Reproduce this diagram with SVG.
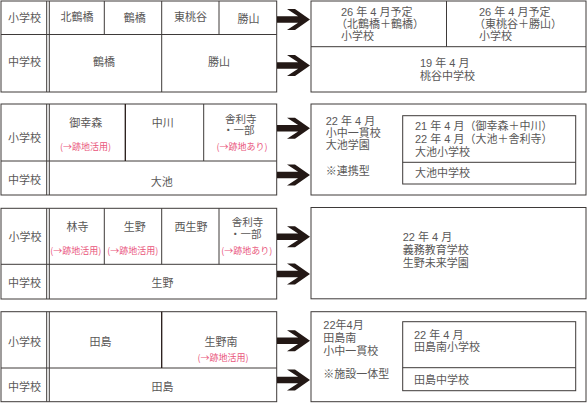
<svg xmlns="http://www.w3.org/2000/svg" xmlns:xlink="http://www.w3.org/1999/xlink" width="587" height="403" viewBox="0 0 587 403">
<defs>
<style>
.b{fill:#fff;stroke:#3e3a39;stroke-width:1}
.l{stroke:#3e3a39;stroke-width:1;fill:none}
.d{stroke:#231815;stroke-width:1.3;fill:none}
text{font-family:"Liberation Sans","Noto Sans CJK JP",sans-serif;font-size:11px;fill:#595757}
.c{text-anchor:middle}
.s{font-size:10.5px}
.p{font-family:"Noto Sans CJK JP",sans-serif;font-size:9px;fill:#e9547b;text-anchor:middle}
.a{fill:#231815}
</style>
<path id="arr" d="M277,-3.2 H298.1 L287,-10.5 H295 L310,0 L295,10.5 H287 L298.1,3.2 H277 Z"/>
</defs>
<rect width="587" height="403" fill="#fff"/>

<!-- Section 1 -->
<g id="s1-left">
<rect class="b" x="1" y="1" width="275.7" height="91"/>
<line class="l" x1="1" y1="34.5" x2="276.7" y2="34.5"/>
<line class="l" x1="46.7" y1="1" x2="46.7" y2="92"/>
<line class="l" x1="49.3" y1="1" x2="49.3" y2="92"/>
<line class="l" x1="104.3" y1="1" x2="104.3" y2="34.5"/>
<line class="l" x1="161.7" y1="1" x2="161.7" y2="92"/>
<line class="l" x1="219" y1="1" x2="219" y2="34.5"/>
<text class="c" x="24.5" y="22.3">小学校</text>
<text class="c" x="77" y="21.3">北鶴橋</text>
<text class="c" x="134.7" y="21.5">鶴橋</text>
<text class="c" x="190.5" y="21.3">東桃谷</text>
<text class="c" x="248.5" y="23">勝山</text>
<text class="c" x="24.5" y="65.7">中学校</text>
<text class="c" x="104" y="65.7">鶴橋</text>
<text class="c" x="219" y="66">勝山</text>
</g>
<g id="s1-right">
<rect class="b" x="311" y="1" width="275" height="91"/>
<line class="l" x1="311" y1="46.7" x2="586" y2="46.7"/>
<line class="l" x1="446.5" y1="1" x2="446.5" y2="46.7"/>
<text x="341" y="15.5">26 年 4 月予定<tspan x="336" dy="12.3">（北鶴橋＋鶴橋）</tspan><tspan x="341" dy="12.3">小学校</tspan></text>
<text x="479" y="15.5">26 年 4 月予定<tspan x="474" dy="12.3">（東桃谷＋勝山）</tspan><tspan x="479" dy="12.3">小学校</tspan></text>
<text x="420" y="67.3">19 年 4 月<tspan x="420" dy="12.7">桃谷中学校</tspan></text>
</g>

<!-- Section 2 -->
<g id="s2-left">
<rect class="b" x="1" y="104" width="275.7" height="91"/>
<line class="l" x1="1" y1="161" x2="276.7" y2="161"/>
<line class="l" x1="46.7" y1="104" x2="46.7" y2="195"/>
<line class="l" x1="49.3" y1="104" x2="49.3" y2="195"/>
<line class="d" x1="125.3" y1="104" x2="125.3" y2="161"/>
<line class="l" x1="203.7" y1="104" x2="203.7" y2="161"/>
<text class="c" x="24.5" y="142.3">小学校</text>
<text class="c" x="85.8" y="127.3">御幸森</text>
<text class="p" x="85.5" y="149.7">(→跡地活用)</text>
<text class="c" x="162.7" y="127.3">中川</text>
<text class="c s" x="240.8" y="122.8">舎利寺<tspan x="238.8" dy="11.4">・一部</tspan></text>
<text class="p" x="242" y="149.7">(→跡地あり)</text>
<text class="c" x="24.5" y="184">中学校</text>
<text class="c" x="161.7" y="186.3">大池</text>
</g>
<g id="s2-right">
<rect class="b" x="311" y="104" width="275" height="91"/>
<text x="325.7" y="124.7">22 年 4 月<tspan x="325.7" dy="12.3">小中一貫校</tspan><tspan x="325.7" dy="12.3">大池学園</tspan></text>
<text x="325.7" y="175">※連携型</text>
<rect class="b" x="402.7" y="115.7" width="173" height="68.3"/>
<line class="l" x1="402.7" y1="162.3" x2="575.7" y2="162.3"/>
<text x="415" y="129.7">21 年 4 月（御幸森＋中川）<tspan x="415" dy="13">22 年 4 月（大池＋舎利寺）</tspan><tspan x="415" dy="13">大池小学校</tspan></text>
<text x="415" y="177.3">大池中学校</text>
</g>

<!-- Section 3 -->
<g id="s3-left">
<rect class="b" x="1" y="208.3" width="275.7" height="90.7"/>
<line class="l" x1="1" y1="264.3" x2="276.7" y2="264.3"/>
<line class="l" x1="46.7" y1="208.3" x2="46.7" y2="299"/>
<line class="l" x1="49.3" y1="208.3" x2="49.3" y2="299"/>
<line class="l" x1="104.3" y1="208.3" x2="104.3" y2="264.3"/>
<line class="l" x1="161.7" y1="208.3" x2="161.7" y2="264.3"/>
<line class="l" x1="219" y1="208.3" x2="219" y2="264.3"/>
<text class="c" x="25" y="240.7">小学校</text>
<text class="c" x="77.5" y="230.7">林寺</text>
<text class="p" x="75.8" y="253.9">(→跡地活用)</text>
<text class="c" x="134.8" y="230.7">生野</text>
<text class="p" x="132.8" y="253.9">(→跡地活用)</text>
<text class="c" x="191" y="230.7">西生野</text>
<text class="c s" x="247.5" y="226.3">舎利寺<tspan x="245.8" dy="11.4">・一部</tspan></text>
<text class="p" x="246.7" y="253.9">(→跡地あり)</text>
<text class="c" x="24.5" y="287.3">中学校</text>
<text class="c" x="162.5" y="287.3">生野</text>
</g>
<g id="s3-right">
<rect class="b" x="311" y="207.5" width="275" height="91.3"/>
<text x="402.7" y="241.3">22 年 4 月<tspan x="402.7" dy="12.7">義務教育学校</tspan><tspan x="402.7" dy="12.7">生野未来学園</tspan></text>
</g>

<!-- Section 4 -->
<g id="s4-left">
<rect class="b" x="1" y="311.7" width="275.7" height="90"/>
<line class="l" x1="1" y1="368" x2="276.7" y2="368"/>
<line class="l" x1="46.7" y1="311.7" x2="46.7" y2="401.7"/>
<line class="l" x1="49.3" y1="311.7" x2="49.3" y2="401.7"/>
<line class="d" x1="161.7" y1="311.7" x2="161.7" y2="368"/>
<text class="c" x="24.5" y="345.7">小学校</text>
<text class="c" x="100.5" y="345.7">田島</text>
<text class="c" x="221" y="345.7">生野南</text>
<text class="p" x="223" y="360.5">(→跡地活用)</text>
<text class="c" x="24.5" y="391.3">中学校</text>
<text class="c" x="162.5" y="391.3">田島</text>
</g>
<g id="s4-right">
<rect class="b" x="311" y="311.7" width="275" height="90"/>
<text x="323.3" y="329">22年4月<tspan x="323.3" dy="12.7">田島南</tspan><tspan x="323.3" dy="13">小中一貫校</tspan></text>
<text x="323.3" y="378">※施設一体型</text>
<rect class="b" x="402.7" y="321.7" width="173" height="69"/>
<line class="l" x1="402.7" y1="367.7" x2="575.7" y2="367.7"/>
<text x="414" y="338.7">22 年 4 月<tspan x="414" dy="12.3">田島南小学校</tspan></text>
<text x="414" y="384">田島中学校</text>
</g>

<g id="connectors">
<use class="a" xlink:href="#arr" transform="translate(0,19.5)"/>
<use class="a" xlink:href="#arr" transform="translate(0,65.5)"/>
<use class="a" xlink:href="#arr" transform="translate(0,128.3)"/>
<use class="a" xlink:href="#arr" transform="translate(0,175)"/>
<use class="a" xlink:href="#arr" transform="translate(0,236.7)"/>
<use class="a" xlink:href="#arr" transform="translate(0,274)"/>
<use class="a" xlink:href="#arr" transform="translate(0,340.7)"/>
<use class="a" xlink:href="#arr" transform="translate(0,380)"/>
</g>
</svg>
